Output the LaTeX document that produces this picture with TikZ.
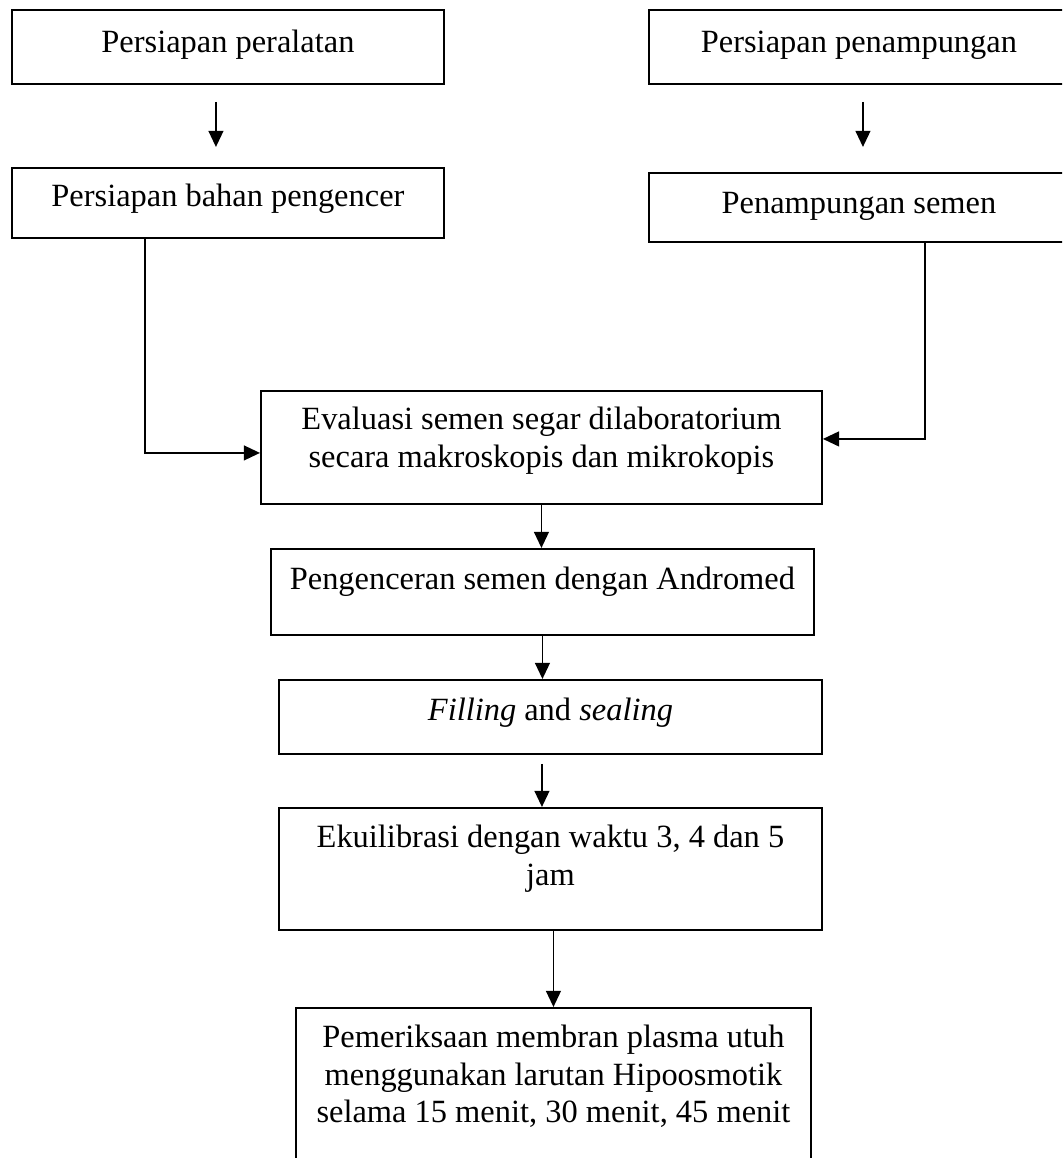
\documentclass[tikz,border=0pt]{standalone}
\usepackage{fontspec}
\setmainfont{Liberation Serif}
\usetikzlibrary{calc, arrows.meta}
\newdimen\pxu
\pxu=0.37pt

\begin{document}
\begin{tikzpicture}[x=\pxu, y=-\pxu,
    stepbox/.style={draw, line width=0.7pt, inner sep=0pt, anchor=north west,
        font=\fontsize{12pt}{13.8pt}\selectfont},
    flowarrow/.style={line width=0.7pt, -{Triangle[length=6pt, width=5.5pt]}}]
    % Page frame
    \useasboundingbox (0,0) rectangle (1062,1158);
    \clip (0,0) rectangle (1062,1158);

    % Preparation boxes
    \node[stepbox, text height=43\pxu, text depth=31\pxu] (alat) at (11,9)
        {\parbox[t]{432\pxu}{\centering Persiapan peralatan}};
    \node[stepbox, text height=43\pxu, text depth=31\pxu] (tampung) at (648,9)
        {\parbox[t]{420\pxu}{\centering Persiapan penampungan}};
    \node[stepbox, text height=39\pxu, text depth=31\pxu] (bahan) at (11,167)
        {\parbox[t]{432\pxu}{\centering Persiapan bahan pengencer}};
    \node[stepbox, text height=41\pxu, text depth=28\pxu] (semen) at (648,172)
        {\parbox[t]{420\pxu}{\centering Penampungan semen}};

    % Main sequence
    \node[stepbox, text height=39\pxu, text depth=74\pxu] (evaluasi) at (260,390)
        {\parbox[t]{561\pxu}{\centering Evaluasi semen segar dilaboratorium\\secara makroskopis dan mikrokopis}};
    \node[stepbox, text height=41\pxu, text depth=45\pxu] (encer) at (270,548)
        {\parbox[t]{543\pxu}{\centering Pengenceran semen dengan Andromed}};
    \node[stepbox, text height=41\pxu, text depth=33\pxu] (filling) at (278,679)
        {\parbox[t]{543\pxu}{\centering \textit{Filling} and \textit{sealing}}};
    \node[stepbox, text height=40\pxu, text depth=82\pxu] (ekuil) at (278,807)
        {\parbox[t]{543\pxu}{\centering Ekuilibrasi dengan waktu 3, 4 dan 5\\jam}};
    \node[stepbox, text height=40\pxu, text depth=128\pxu] (periksa) at (295,1007)
        {\parbox[t]{515\pxu}{\centering Pemeriksaan membran plasma utuh\\menggunakan larutan Hipoosmotik\\selama 15 menit, 30 menit, 45 menit}};

    % Short arrows at the top
    \draw[flowarrow, shorten <=17\pxu, shorten >=20\pxu] ($(alat.south)+(-12,0)$) -- ($(bahan.north)+(-12,0)$);
    \draw[flowarrow, shorten <=17\pxu, shorten >=25\pxu] ($(tampung.south)+(4,0)$) -- ($(semen.north)+(4,0)$);

    % Elbow connectors into the evaluation box
    \draw[flowarrow] ($(bahan.south)+(-83,0)$) |- ($(evaluasi.west)+(0,5.5)$);
    \draw[flowarrow] ($(semen.south)+(66,0)$) |- ($(evaluasi.east)+(0,-8.5)$);

    % Downward arrows
    \draw[flowarrow] (evaluasi.south) -- (evaluasi.south |- encer.north);
    \draw[flowarrow] (encer.south) -- (encer.south |- filling.north);
    \draw[flowarrow, shorten <=9\pxu] ($(filling.south)+(-8.5,0)$) -- ($(ekuil.north)+(-8.5,0)$);
    \draw[flowarrow] (periksa.north |- ekuil.south) -- (periksa.north);
\end{tikzpicture}
\end{document}
